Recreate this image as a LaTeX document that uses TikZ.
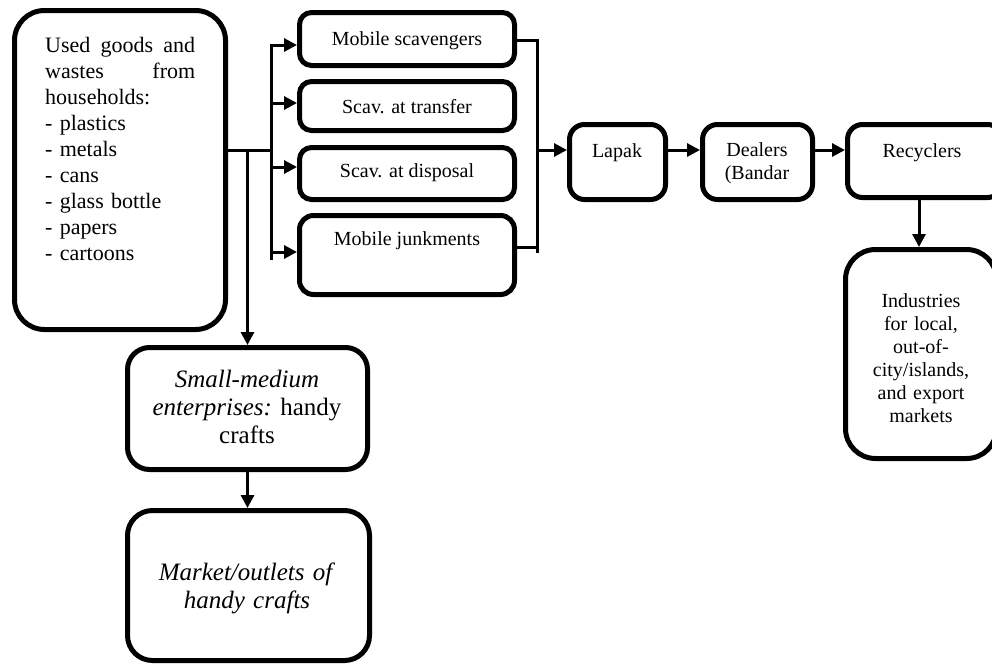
\documentclass[tikz,border=0pt]{standalone}
\usepackage{fontspec}
\setmainfont{Liberation Serif}
\usetikzlibrary{arrows.meta}
\begin{document}
\begin{tikzpicture}[x=1pt,y=-1pt,
  box/.style={draw=black, line width=5pt, rounded corners=#1, inner sep=0pt},
  box/.default=12pt,
  conn/.style={line width=3pt},
  arr/.style={line width=3pt, -{Triangle[length=13pt,width=13pt]}},
  lbl/.style={font=\fontsize{20}{23}\selectfont, anchor=base, inner sep=0pt},
  big/.style={font=\fontsize{25}{28}\selectfont, anchor=base, inner sep=0pt, text width=240pt, align=center}]
\clip (0,0) rectangle (992,667);
\fill[white] (0,0) rectangle (992,667);

% boxes (centre, size between path lines)
\node[box=30pt, minimum width=211pt, minimum height=319pt] (src) at (120,170) {};
\node[box=12pt, minimum width=215pt, minimum height=53pt] (ms) at (407,39) {};
\node[box=12pt, minimum width=215pt, minimum height=49pt] (st) at (407,106) {};
\node[box=12pt, minimum width=215pt, minimum height=52pt] (sd) at (407,173.5) {};
\node[box=14pt, minimum width=215pt, minimum height=79pt] (mj) at (407,255) {};
\node[box=15pt, minimum width=96pt, minimum height=75pt] (lapak) at (617.5,162) {};
\node[box=15pt, minimum width=110pt, minimum height=75pt] (dealers) at (757.5,162) {};
\node[box=15pt, minimum width=155pt, minimum height=73pt] (recyc) at (925,161) {};
\node[box=30pt, minimum width=151pt, minimum height=209pt] (ind) at (921,354) {};
\node[box=22pt, minimum width=240pt, minimum height=122pt] (sme) at (247.5,408.5) {};
\node[box=25pt, minimum width=242pt, minimum height=150pt] (mkt) at (248.5,585.5) {};

% texts
\node[anchor=base west, inner sep=0pt, text width=150pt, align=left,
      font=\fontsize{22}{26}\selectfont] (srctxt) at (45,52)
  {\makebox[150pt][l]{Used\hfill goods\hfill and}\\
   \makebox[150pt][l]{wastes\hfill from}\\
   households:\\
   - plastics\\
   - metals\\
   - cans\\
   - glass bottle\\
   - papers\\
   - cartoons};
\node[lbl] (mstxt) at (407,45) {Mobile scavengers};
\node[lbl] (sttxt) at (407,113) {Scav. at transfer};
\node[lbl] (sdtxt) at (407,177) {Scav. at disposal};
\node[lbl] (mjtxt) at (407,245) {Mobile junkments};
\node[lbl] (lapaktxt) at (617,157) {Lapak};
\node[lbl, text width=110pt, align=center] (dealerstxt) at (757,156) {Dealers\\(Bandar};
\node[lbl] (recyctxt) at (922,157) {Recyclers};
\node[lbl, text width=150pt, align=center] (indtxt) at (921,307)
  {Industries\\ for local,\\ out-of-\\ city/islands,\\ and export\\ markets};
\node[big] (smetxt) at (247,387)
  {\textit{Small-medium}\\ {\itshape enterprises:}\ handy\\ crafts};
\node[big] (mkttxt) at (247,580)
  {\textit{Market/outlets of}\\ \textit{handy crafts}};

% junction points
\coordinate (bL0) at (271,150);
\coordinate (busLtop) at (271,43.5);
\coordinate (busLbot) at (271,260);
\coordinate (bL1) at (271,45);
\coordinate (bL2) at (271,103);
\coordinate (bL3) at (271,167);
\coordinate (bL4) at (271,252);
\coordinate (brn) at (247.5,150);
\coordinate (bR1) at (537,40);
\coordinate (bR2) at (537,247);
\coordinate (busRbot) at (537,253);
\coordinate (bR0) at (537,150);
\coordinate (dn) at (919,200);

% connectors
\draw[conn] (src.east |- bL0) -- (bL0);
\draw[conn] (busLtop) -- (busLbot);
\draw[arr] (bL1) -- (ms.west |- bL1);
\draw[arr] (bL2) -- (st.west |- bL2);
\draw[arr] (bL3) -- (sd.west |- bL3);
\draw[arr] (bL4) -- (mj.west |- bL4);
\draw[arr] (brn) -- (sme.north);
\draw[arr] (sme.south) -- (mkt.north -| sme.south);
\draw[conn, line join=miter] (ms.east |- bR1) -- (bR1) -- (busRbot);
\draw[conn] (mj.east |- bR2) -- (bR2);
\draw[arr] (bR0) -- (lapak.west |- bR0);
\draw[arr] (lapak.east |- bR0) -- (dealers.west |- bR0);
\draw[arr] (dealers.east |- bR0) -- (recyc.west |- bR0);
\draw[arr] (dn) -- (ind.north -| dn);
\end{tikzpicture}
\end{document}
